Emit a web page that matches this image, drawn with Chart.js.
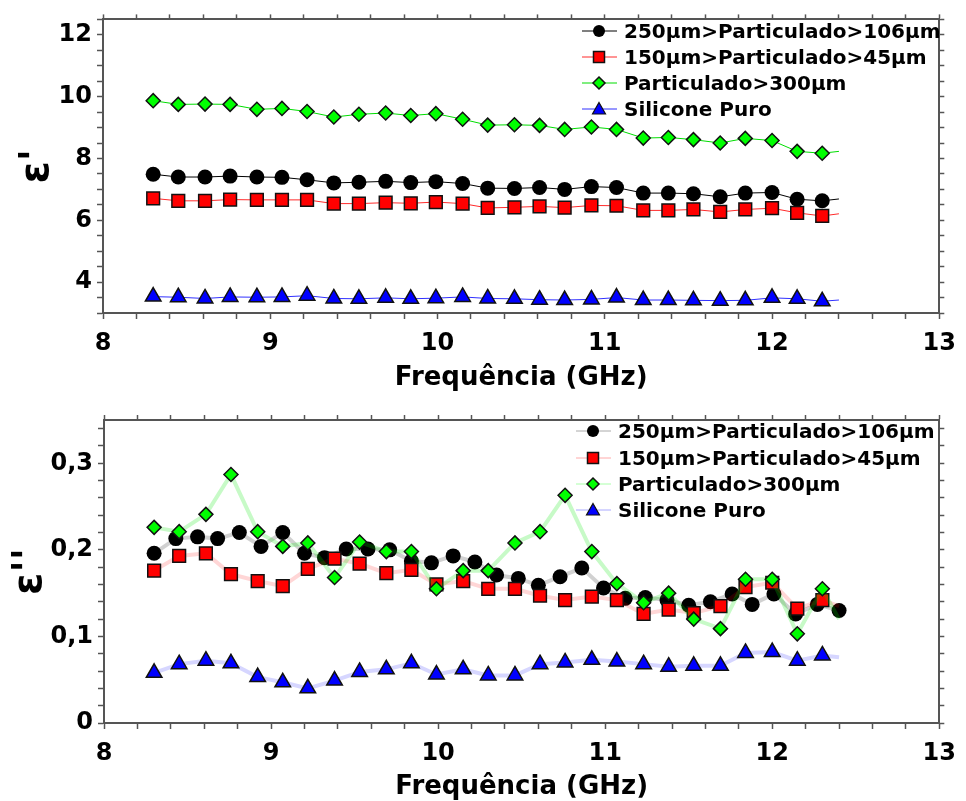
<!DOCTYPE html>
<html>
<head>
<meta charset="utf-8">
<script src="https://cdn.jsdelivr.net/npm/chart.js@4.4.1/dist/chart.umd.min.js"></script>
<style>
  body { margin: 0; background: #fff; }
  #page { position: relative; width: 966px; height: 801px; overflow: hidden; font-family: 'DejaVu Sans', sans-serif; }
  .panel { position: absolute; left: 0; width: 966px; }
  .panel canvas { display: block; }
  .legend { position: absolute; font-weight: bold; font-size: 20px; color: #000; }
  .legend .row { display: flex; align-items: center; white-space: nowrap; }
  .legend svg { width: 40px; height: 26px; margin-right: 4px; flex: none; }
</style>
</head>
<body>
<div id="page">
  <div class="panel" style="top:0;height:400px"><canvas id="epsReal" width="966" height="400"></canvas></div>
  <div class="panel" style="top:400px;height:401px"><canvas id="epsImag" width="966" height="401"></canvas></div>
  <div class="legend" id="legendTop" style="left:580px;top:18px"></div>
  <div class="legend" id="legendBottom" style="left:574px;top:418px"></div>
</div>
<script>
const FONT = "'DejaVu Sans', sans-serif";

const seriesNames = ['250µm>Particulado>106µm', '150µm>Particulado>45µm', 'Particulado>300µm', 'Silicone Puro'];

// frequencies (GHz) where the markers sit
const freqMarks = [8.30, 8.45, 8.61, 8.76, 8.92, 9.07, 9.22, 9.38, 9.53, 9.69, 9.84, 9.99, 10.15, 10.30,
  10.46, 10.61, 10.76, 10.92, 11.07, 11.23, 11.38, 11.53, 11.69, 11.84, 12.00, 12.15, 12.30];
// the 250/106 curve of the loss plot has denser markers
const freqMarksDense = [8.30, 8.43, 8.56, 8.68, 8.81, 8.94, 9.07, 9.20, 9.32, 9.45, 9.58, 9.71, 9.84, 9.96,
  10.09, 10.22, 10.35, 10.48, 10.60, 10.73, 10.86, 10.99, 11.12, 11.24, 11.37, 11.50, 11.63, 11.76,
  11.88, 12.01, 12.14, 12.27, 12.40];
const freqEnd = 12.40; // measured curves stop here

// tick labels
const freqTickLabels = [8, 9, 10, 11, 12, 13];
const realTickLabels = [4, 6, 8, 10, 12];
const imagTickLabels = [0, 0.1, 0.2, 0.3];

// ε' values
const realBlack = [7.49, 7.40, 7.40, 7.43, 7.40, 7.39, 7.31, 7.21, 7.23, 7.26, 7.22, 7.25, 7.19, 7.04,
  7.03, 7.06, 7.00, 7.09, 7.06, 6.88, 6.88, 6.86, 6.76, 6.88, 6.90, 6.68, 6.63];
const realRed = [6.71, 6.63, 6.63, 6.67, 6.66, 6.66, 6.66, 6.54, 6.54, 6.57, 6.55, 6.59, 6.54, 6.40,
  6.42, 6.45, 6.41, 6.48, 6.47, 6.32, 6.32, 6.35, 6.27, 6.35, 6.39, 6.24, 6.14];
const realGreen = [9.87, 9.75, 9.76, 9.75, 9.59, 9.62, 9.52, 9.34, 9.43, 9.47, 9.39, 9.45, 9.27, 9.08,
  9.09, 9.07, 8.94, 9.02, 8.94, 8.66, 8.68, 8.61, 8.50, 8.65, 8.58, 8.23, 8.17];
const realBlue = [3.53, 3.51, 3.47, 3.52, 3.51, 3.52, 3.56, 3.47, 3.46, 3.49, 3.46, 3.48, 3.52, 3.47,
  3.46, 3.43, 3.42, 3.44, 3.50, 3.42, 3.42, 3.41, 3.40, 3.41, 3.49, 3.46, 3.38];
const realEnd = [6.69, 6.21, 8.23, 3.42];

// ε'' values
const imagBlack = [0.196, 0.213, 0.215, 0.213, 0.220, 0.204, 0.220, 0.196, 0.191, 0.201, 0.201, 0.200,
  0.187, 0.185, 0.193, 0.186, 0.171, 0.167, 0.159, 0.169, 0.179, 0.156, 0.144, 0.145, 0.142, 0.136,
  0.140, 0.149, 0.137, 0.149, 0.126, 0.137, 0.130];
const imagRed = [0.176, 0.193, 0.196, 0.172, 0.164, 0.158, 0.178, 0.190, 0.184, 0.173, 0.177, 0.160, 0.164, 0.155,
  0.155, 0.147, 0.142, 0.146, 0.142, 0.126, 0.131, 0.127, 0.135, 0.157, 0.162, 0.132, 0.142];
const imagGreen = [0.226, 0.221, 0.241, 0.287, 0.221, 0.204, 0.208, 0.168, 0.209, 0.198, 0.198, 0.155, 0.176, 0.176,
  0.208, 0.221, 0.263, 0.198, 0.161, 0.139, 0.150, 0.120, 0.109, 0.166, 0.166, 0.103, 0.155];
const imagBlue = [0.058, 0.068, 0.072, 0.069, 0.053, 0.047, 0.040, 0.049, 0.059, 0.062, 0.069, 0.056, 0.062, 0.055,
  0.055, 0.068, 0.070, 0.073, 0.071, 0.068, 0.065, 0.066, 0.066, 0.081, 0.082, 0.072, 0.078];
const imagEnd = [null, 0.135, 0.120, 0.076];

const markers = [
  { style: 'circle', radius: 7.5, fill: '#000000', line: '#000000', band: 'rgba(0,0,0,0.18)', legendLine: '#aaaaaa' },
  { style: 'rect', radius: 9, fill: '#ff0000', line: '#ff2a2a', band: 'rgba(255,0,0,0.16)', legendLine: '#ffaaaa' },
  { style: 'rectRot', radius: 7, fill: '#00ff00', line: '#00dd00', band: 'rgba(0,230,0,0.22)', legendLine: '#aaffaa' },
  { style: 'triangle', radius: 9, fill: '#0000ff', line: '#3030ff', band: 'rgba(0,0,255,0.16)', legendLine: '#aaaaff' }
];

function makeDataset(i, xs, ys, endY, faint) {
  const m = markers[i];
  const pts = xs.map((x, k) => ({ x: x, y: ys[k] }));
  if (endY !== null) pts.push({ x: freqEnd, y: endY });
  return {
    label: seriesNames[i],
    data: pts,
    showLine: true,
    tension: 0,
    borderColor: faint ? m.band : m.line,
    borderWidth: faint ? 4 : 1,
    pointStyle: m.style,
    pointRadius: (ctx) => ctx.dataIndex < xs.length ? m.radius : 0,
    pointHoverRadius: (ctx) => ctx.dataIndex < xs.length ? m.radius : 0,
    pointBackgroundColor: m.fill,
    pointBorderColor: '#111',
    pointBorderWidth: i === 0 ? 0 : 1.5,
    order: 4 - i
  };
}

function isTick(v, list) {
  return list.some(t => Math.abs(t - v) < 1e-6);
}

function makeScales(o) {
  const axisColor = '#555';
  const frame = { color: axisColor, width: 2 };
  const tickFont = { family: FONT, size: 24, weight: 'bold' };
  return {
    x: {
      type: 'linear', position: 'bottom', min: 8, max: 13,
      ticks: {
        stepSize: 0.2, autoSkip: false, maxRotation: 0, padding: 10, color: '#000', font: tickFont,
        callback: (v) => isTick(v, freqTickLabels) ? String(Math.round(v)) : ''
      },
      grid: { drawOnChartArea: false, tickLength: 6, tickColor: axisColor, tickWidth: 1.5 },
      border: frame,
      title: {
        display: true, text: 'Frequência (GHz)', color: '#000',
        font: { family: FONT, size: 26, weight: 'bold', lineHeight: 1 },
        padding: { top: 0, bottom: o.xTitlePad }
      },
      afterFit: (s) => { s.height = o.bottom; }
    },
    xTop: {
      type: 'linear', position: 'top', min: 8, max: 13,
      ticks: { stepSize: 0.2, autoSkip: false, display: false },
      grid: { drawOnChartArea: false, tickLength: 5, tickColor: axisColor, tickWidth: 1.5 },
      border: frame,
      afterFit: (s) => { s.height = o.top; }
    },
    y: {
      type: 'linear', position: 'left', min: o.yMin, max: o.yMax,
      ticks: {
        stepSize: o.yStep, autoSkip: false, includeBounds: false, padding: 5, color: '#000', font: tickFont,
        callback: (v) => isTick(v, o.yLabels) ? o.fmt(v) : ''
      },
      grid: { drawOnChartArea: false, tickLength: 6, tickColor: axisColor, tickWidth: 1.5 },
      border: frame,
      title: {
        display: true, text: o.yTitle, color: '#000',
        font: { family: FONT, size: 40, weight: 'bold', lineHeight: 1 },
        padding: { top: o.yTitlePad, bottom: 0 }
      },
      afterFit: (s) => { s.width = o.left; }
    },
    yRight: {
      type: 'linear', position: 'right', min: o.yMin, max: o.yMax,
      ticks: { stepSize: o.yStep, autoSkip: false, includeBounds: false, display: false },
      grid: { drawOnChartArea: false, tickLength: 5, tickColor: axisColor, tickWidth: 1.5 },
      border: frame,
      afterFit: (s) => { s.width = o.right; }
    }
  };
}

const baseOptions = {
  responsive: false,
  animation: false,
  devicePixelRatio: 1,
  layout: { padding: 0 },
  plugins: { legend: { display: false }, tooltip: { enabled: false } }
};

new Chart(document.getElementById('epsReal').getContext('2d'), {
  type: 'scatter',
  data: {
    datasets: [
      makeDataset(0, freqMarks, realBlack, realEnd[0], false),
      makeDataset(1, freqMarks, realRed, realEnd[1], false),
      makeDataset(2, freqMarks, realGreen, realEnd[2], false),
      makeDataset(3, freqMarks, realBlue, realEnd[3], false)
    ]
  },
  options: Object.assign({}, baseOptions, {
    scales: makeScales({
      yMin: 3, yMax: 12.5, yStep: 0.5, yLabels: realTickLabels, fmt: (v) => String(Math.round(v)),
      yTitle: "ε'", yTitlePad: 18, xTitlePad: 9,
      left: 103, right: 21, top: 16, bottom: 87
    })
  })
});

new Chart(document.getElementById('epsImag').getContext('2d'), {
  type: 'scatter',
  data: {
    datasets: [
      makeDataset(0, freqMarksDense, imagBlack, imagEnd[0], true),
      makeDataset(1, freqMarks, imagRed, imagEnd[1], true),
      makeDataset(2, freqMarks, imagGreen, imagEnd[2], true),
      makeDataset(3, freqMarks, imagBlue, imagEnd[3], true)
    ]
  },
  options: Object.assign({}, baseOptions, {
    scales: makeScales({
      yMin: 0, yMax: 0.35, yStep: 0.02, yLabels: imagTickLabels,
      fmt: (v) => String(Math.round(v * 10) / 10).replace('.', ','),
      yTitle: "ε''", yTitlePad: 11, xTitlePad: 1,
      left: 104, right: 24, top: 20, bottom: 78
    })
  })
});

// legends: line sample with marker, then the label
function markerSvg(i, lineColor) {
  const m = markers[i];
  let shape;
  if (m.style === 'circle') shape = '<circle cx="19" cy="13" r="6" fill="#000"/>';
  else if (m.style === 'rect') shape = '<rect x="13.5" y="7.5" width="11" height="11" fill="#ff0000" stroke="#111" stroke-width="1.5"/>';
  else if (m.style === 'rectRot') shape = '<polygon points="19,7 25,13 19,19 13,13" fill="#00ff00" stroke="#111" stroke-width="1.5"/>';
  else shape = '<polygon points="19,6.5 25.5,18 12.5,18" fill="#0000ff" stroke="#111" stroke-width="1.2"/>';
  return '<svg viewBox="0 0 40 26"><line x1="2" y1="13" x2="37" y2="13" stroke="' + lineColor + '" stroke-width="1"/>' + shape + '</svg>';
}

function buildLegend(id, faint, rowHeight) {
  const box = document.getElementById(id);
  seriesNames.forEach((name, i) => {
    const row = document.createElement('div');
    row.className = 'row';
    row.style.height = rowHeight + 'px';
    row.innerHTML = markerSvg(i, faint ? markers[i].legendLine : markers[i].line);
    const span = document.createElement('span');
    span.textContent = name;
    row.appendChild(span);
    box.appendChild(row);
  });
}
buildLegend('legendTop', false, 26.1);
buildLegend('legendBottom', true, 26.4);
</script>
</body>
</html>
